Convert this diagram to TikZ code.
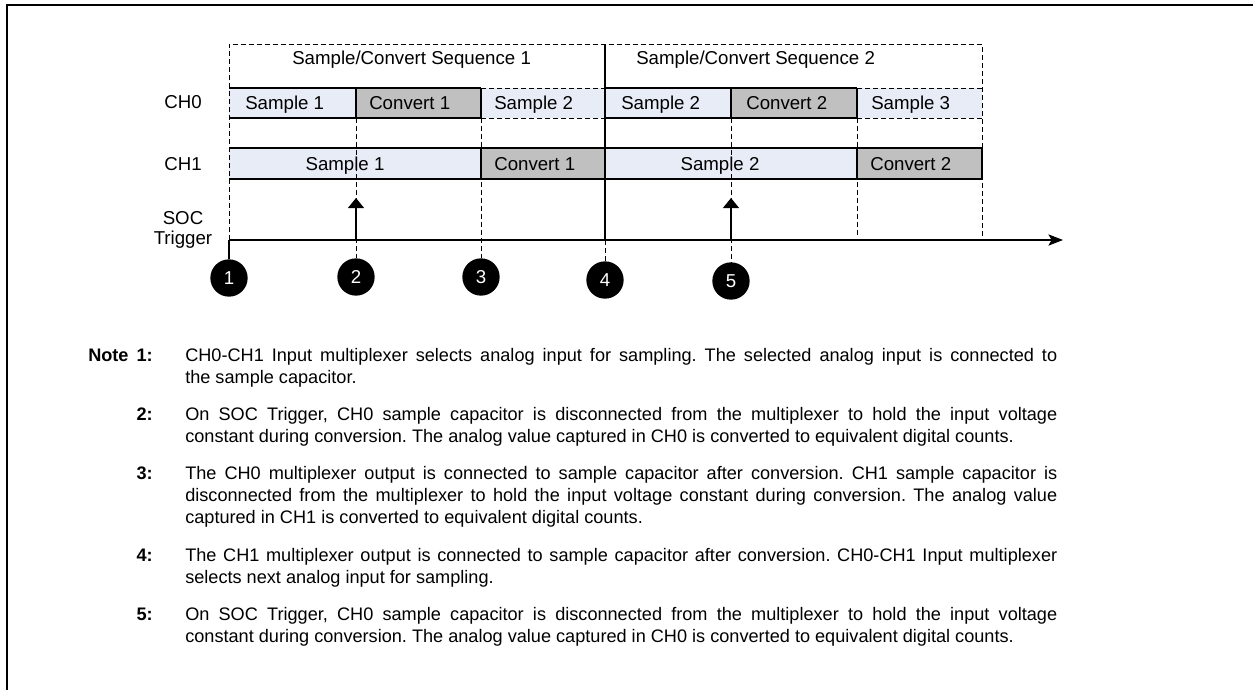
\documentclass[tikz,border=0pt]{standalone}
\usepackage{fontspec}
\setmainfont{Liberation Sans}
\usetikzlibrary{arrows.meta}
\definecolor{lb}{RGB}{232,236,247}
\definecolor{gr}{RGB}{192,192,192}
\hyphenpenalty=10000
\exhyphenpenalty=10000
\tolerance=9999
\frenchspacing
\begin{document}
\begin{tikzpicture}[x=0.75pt,y=-0.75pt,
  font=\fontsize{14}{16.5}\selectfont,
  dsh/.style={dash pattern=on 3.75pt off 2.25pt, line width=0.75pt},
  sol/.style={line width=0.8pt},
  lbl/.style={inner sep=0pt, anchor=base west},
  lblc/.style={inner sep=0pt, anchor=base},
  numc/.style={circle, fill=black, text=white, minimum size=28pt, inner sep=0pt},
  notetext/.style={anchor=base west, inner sep=0pt, text width=654pt, align=justify,
    font=\fontsize{13.6}{16.5}\selectfont},
  notenum/.style={anchor=base east, inner sep=0pt, font=\fontsize{13.6}{16.5}\selectfont\bfseries},
  upar/.style={line width=0.8pt, -{Triangle[length=7.5pt,width=12pt]}},
]
\useasboundingbox (0,0) rectangle (1253,690);
% outer frame
\draw[line width=1.2pt] (7,690) -- (7,5) -- (1253,5);

% cell fills
\fill[lb] (229,88) rectangle (356,118);
\fill[gr] (356,88) rectangle (481,118);
\fill[lb] (481,88) rectangle (605,118);
\fill[lb] (605,88) rectangle (731,118);
\fill[gr] (731,88) rectangle (857,118);
\fill[lb] (857,88) rectangle (982,118);
\fill[lb] (229,148) rectangle (481,179);
\fill[gr] (481,148) rectangle (605,179);
\fill[lb] (605,148) rectangle (857,179);
\fill[gr] (857,148) rectangle (982,179);

% circles
\node[numc] (c1) at (229,278) {1};
\node[numc] (c2) at (356,277) {2};
\node[numc] (c3) at (481,277) {3};
\node[numc] (c4) at (605,280) {4};
\node[numc] (c5) at (731,281) {5};

% coordinates
\coordinate (ax0) at (229,240);
\coordinate (ax1) at (1063,240);

% dashed sequence frame and verticals
\draw[dsh] (229,240) -- (229,44) -- (982,44) -- (982,237);
\draw[dsh] (356,118) -- (c2.north);
\draw[dsh] (481,118) -- (c3.north);
\draw[dsh] (605,240) -- (c4.north);
\draw[dsh] (731,118) -- (c5.north);
\draw[dsh] (857,118) -- (857,237);
\draw[dsh] (481,88) -- (605,88) (481,118) -- (605,118);
\draw[dsh] (857,88) -- (982,88) (857,118) -- (982,118);

% solid borders
\draw[sol] (229,88) -- (481,88) (229,118) -- (481,118)
  (356,88) -- (356,118) (481,88) -- (481,118);
\draw[sol] (605,88) -- (857,88) (605,118) -- (857,118)
  (731,88) -- (731,118) (857,88) -- (857,118);
\draw[sol] (229,148) -- (982,148) (229,179) -- (982,179)
  (481,148) -- (481,179) (857,148) -- (857,179) (982,148) -- (982,179);
\draw[sol] (605,44) -- (605,240);
\draw[sol] (ax0) -- (c1.north);

% axis
\draw[sol, -{Stealth[length=11pt,width=8.5pt,inset=2.5pt]}] (ax0) -- (ax1);

% trigger arrows
\coordinate (t2) at (356,198);
\coordinate (t5) at (731,198);
\draw[upar] (356,240) -- (t2);
\draw[upar] (731,240) -- (t5);

% labels
\node[lbl] (seq1) at (292,64) {Sample/Convert Sequence 1};
\node[lbl] (seq2) at (636,64) {Sample/Convert Sequence 2};
\node[lblc] (ch0) at (183,108) {CH0};
\node[lblc] (ch1) at (183,170) {CH1};
\node[lblc] (soc) at (183,224) {SOC};
\node[lblc] (trg) at (183,244) {Trigger};

\node[lbl] (a1) at (245,109) {Sample 1};
\node[lbl] (a2) at (369,109) {Convert 1};
\node[lbl] (a3) at (494,109) {Sample 2};
\node[lbl] (a4) at (621,109) {Sample 2};
\node[lbl] (a5) at (746,109) {Convert 2};
\node[lbl] (a6) at (871,109) {Sample 3};
\node[lblc] (b1) at (345,170) {Sample 1};
\node[lbl] (b2) at (494,170) {Convert 1};
\node[lblc] (b3) at (720,170) {Sample 2};
\node[lbl] (b4) at (870,170) {Convert 2};

% notes
\node[notenum, anchor=base west] (notew) at (88,361) {Note};
\node[notenum] (nn1) at (153,361) {1:};
\node[notetext] (n1) at (185,361) {CH0-CH1 Input multiplexer selects analog input for sampling. The selected analog input is connected to\linebreak the sample capacitor.};
\node[notenum] (nn2) at (153,420) {2:};
\node[notetext] (n2) at (185,420) {On SOC Trigger, CH0 sample capacitor is disconnected from the multiplexer to hold the input voltage\linebreak constant during conversion. The analog value captured in CH0 is converted to equivalent digital counts.};
\node[notenum] (nn3) at (153,479) {3:};
\node[notetext] (n3) at (185,479) {The CH0 multiplexer output is connected to sample capacitor after conversion. CH1 sample capacitor is\linebreak disconnected from the multiplexer to hold the input voltage constant during conversion. The analog value\linebreak captured in CH1 is converted to equivalent digital counts.};
\node[notenum] (nn4) at (153,561) {4:};
\node[notetext] (n4) at (185,561) {The CH1 multiplexer output is connected to sample capacitor after conversion. CH0-CH1 Input multiplexer\linebreak selects next analog input for sampling.};
\node[notenum] (nn5) at (153,620) {5:};
\node[notetext] (n5) at (185,620) {On SOC Trigger, CH0 sample capacitor is disconnected from the multiplexer to hold the input voltage\linebreak constant during conversion. The analog value captured in CH0 is converted to equivalent digital counts.};
\end{tikzpicture}
\end{document}
